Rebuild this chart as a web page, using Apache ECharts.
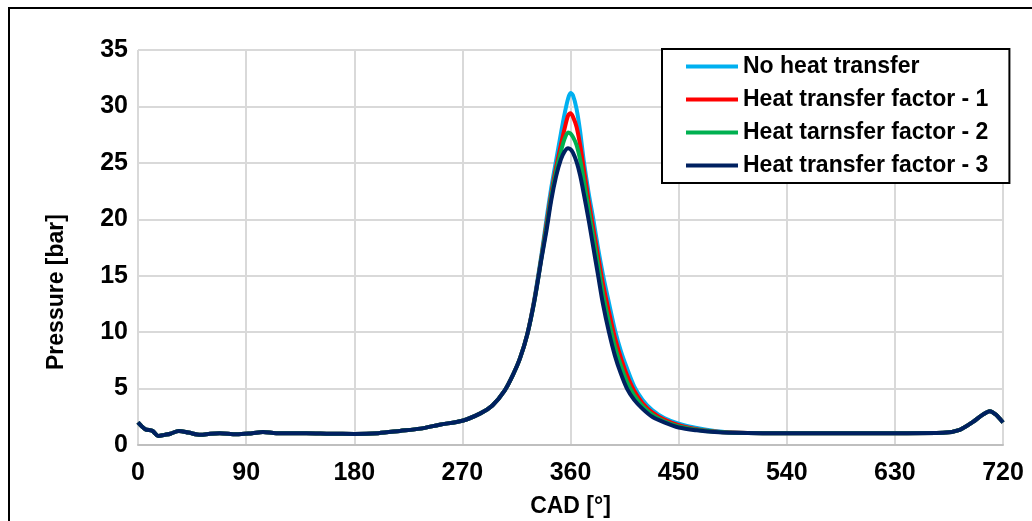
<!DOCTYPE html>
<html>
<head>
<meta charset="utf-8">
<script src="https://cdn.jsdelivr.net/npm/echarts@6/dist/echarts.min.js"></script>
<style>
  html, body { margin: 0; padding: 0; background: #fff; }
  #chart { width: 1032px; height: 521px; }
</style>
</head>
<body>
<div id="chart"></div>
<script>
// crank angle positions (deg)
const cad = [
  0, 6, 12, 17, 22, 27, 34, 42, 52, 60, 68, 82, 95, 104, 115, 124, 140, 160, 180, 200, 218, 235, 251, 270, 285, 295, 305, 312, 318, 324,
  330, 336, 340, 344, 348, 352, 355, 358, 360, 362, 365, 368, 371, 375, 379, 383, 387, 392, 397, 402, 407, 413, 420, 428, 438, 450, 465, 480, 495,
  520, 560, 600, 640, 670, 684, 695, 702, 709, 714, 720
];

// shared part of the curves (compression side and exhaust/intake end)
const startPart = [2.0, 1.4, 1.25, 0.8, 0.9, 1.0, 1.25, 1.1, 0.9, 1.0, 1.05, 0.95, 1.05, 1.15, 1.05, 1.05, 1.05, 1.0, 0.98, 1.05, 1.25, 1.45, 1.8, 2.15, 2.8, 3.5, 4.8, 6.2, 7.7, 9.8];
const endPart = [1.05, 1.05, 1.05, 1.05, 1.08, 1.35, 2.05, 2.6, 3.0, 2.7, 2.0];

// peak region, 330..495 deg
const peakNoHT = [13.0, 17.0, 20.0, 22.8, 25.2, 27.6, 29.3, 30.7, 31.2, 31.0, 29.8, 27.8, 25.2, 22.4, 20.0, 17.4, 15.1, 12.6, 10.2, 8.3, 6.8, 5.2, 4.0, 3.1, 2.4, 1.9, 1.5, 1.25, 1.1];
const peakHT1 = [12.9, 16.8, 19.6, 22.3, 24.6, 26.6, 28.0, 29.2, 29.4, 29.1, 28.2, 26.6, 24.5, 21.7, 19.2, 16.7, 14.3, 11.8, 9.5, 7.7, 6.2, 4.8, 3.7, 2.9, 2.25, 1.75, 1.4, 1.2, 1.1];
const peakHT2 = [12.8, 16.7, 19.3, 22.0, 24.2, 26.0, 27.1, 27.7, 27.6, 27.3, 26.6, 25.3, 23.5, 20.9, 18.4, 15.9, 13.4, 10.9, 8.7, 7.0, 5.6, 4.4, 3.45, 2.7, 2.1, 1.65, 1.35, 1.17, 1.09];
const peakHT3 = [12.8, 16.6, 19.0, 21.7, 23.8, 25.3, 26.0, 26.3, 26.2, 25.9, 25.1, 23.9, 22.3, 20.0, 17.5, 15.0, 12.5, 10.0, 7.9, 6.3, 5.0, 4.0, 3.2, 2.5, 2.0, 1.55, 1.3, 1.15, 1.08];

const seriesNames = ['No heat transfer', 'Heat transfer factor - 1', 'Heat tarnsfer factor - 2', 'Heat transfer factor - 3'];
const seriesColors = ['#00b0f0', '#ff0000', '#00b050', '#002060'];
const peaks = [peakNoHT, peakHT1, peakHT2, peakHT3];

const FONT = '"Liberation Sans", Arial, sans-serif';

const chart = echarts.init(document.getElementById('chart'));

const series = peaks.map((p, i) => {
  const vals = startPart.concat(p, endPart);
  return {
    name: seriesNames[i],
    type: 'line',
    data: cad.map((x, k) => [x, vals[k]]),
    showSymbol: false,
    smooth: 0.3,
    lineStyle: { color: seriesColors[i], width: 4 },
    itemStyle: { color: seriesColors[i] },
    z: 2 + i
  };
});

chart.setOption({
  animation: false,
  backgroundColor: '#fff',
  grid: { left: 138, right: 29, top: 50, bottom: 76, outerBoundsMode: 'none' },
  graphic: [{
    type: 'rect',
    shape: { x: 9, y: 8, width: 1100, height: 600 },
    style: { fill: 'none', stroke: '#000', lineWidth: 2 },
    silent: true,
    z: 0
  }, {
    // y axis title sits a bit below the middle, as in the original
    type: 'text',
    x: 57,
    y: 292,
    rotation: Math.PI / 2,
    style: {
      text: 'Pressure [bar]',
      fill: '#000',
      font: 'bold 23px ' + FONT,
      align: 'center',
      verticalAlign: 'middle'
    },
    silent: true
  }],
  legend: {
    orient: 'vertical',
    left: 662,
    top: 49,
    padding: [6, 21, 6, 24],
    itemGap: 10,
    itemWidth: 52,
    itemHeight: 4,
    icon: 'rect',
    backgroundColor: '#fff',
    borderColor: '#000',
    borderWidth: 2,
    textStyle: { color: '#000', fontWeight: 'bold', fontSize: 23, fontFamily: FONT },
    data: seriesNames
  },
  xAxis: {
    type: 'value',
    min: 0,
    max: 720,
    interval: 90,
    name: 'CAD [°]',
    nameLocation: 'middle',
    nameGap: 50,
    nameTextStyle: { color: '#000', fontWeight: 'bold', fontSize: 23, fontFamily: FONT },
    axisLine: { show: true, lineStyle: { color: '#bfbfbf', width: 2 } },
    axisTick: { show: false },
    axisLabel: { color: '#000', fontWeight: 'bold', fontSize: 25, fontFamily: FONT, margin: 16 },
    splitLine: { show: true, lineStyle: { color: '#d9d9d9', width: 2 } }
  },
  yAxis: {
    type: 'value',
    min: 0,
    max: 35,
    interval: 5,
    axisLine: { show: false },
    axisTick: { show: false },
    axisLabel: { color: '#000', fontWeight: 'bold', fontSize: 25, fontFamily: FONT, margin: 10 },
    splitLine: { show: true, lineStyle: { color: '#d9d9d9', width: 2 } }
  },
  series: series
});
</script>
</body>
</html>
